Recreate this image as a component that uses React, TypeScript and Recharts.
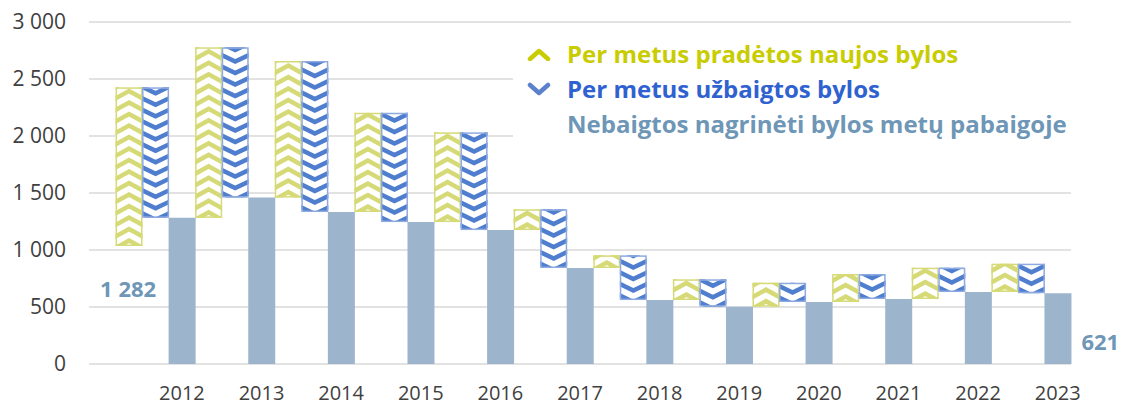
import { Bar, BarChart, CartesianGrid, LabelList, Legend, XAxis, YAxis } from "recharts";

const years = ["2012", "2013", "2014", "2015", "2016", "2017", "2018", "2019", "2020", "2021", "2022", "2023"];
// backlog at the end of 2011
const openingBacklog = 1035;
const newCases = [1392, 1496, 1198, 871, 787, 182, 111, 182, 210, 245, 275, 248];
const closedCases = [1145, 1318, 1325, 959, 857, 515, 392, 240, 169, 219, 213, 259];
const yTicks = [0, 500, 1000, 1500, 2000, 2500, 3000];
const legendOrder = ["up", "down", "backlog"];
const seriesNames: Record<string, string> = {
  up: "Per metus pradėtos naujos bylos",
  down: "Per metus užbaigtos bylos",
  backlog: "Nebaigtos nagrinėti bylos metų pabaigoje",
};

const YELLOW = "#d6da76";
const YELLOW_TEXT = "#c8cc00";
const BLUE = "#4f7ecf";
const BLUE_BORDER = "#8eaadf";
const BLUE_TEXT = "#2f62d0";
const SOLID = "#9cb4cc";
const SOLID_TEXT = "#6e96b6";
const FONT = '"Open Sans", sans-serif';

const fmtThousands = (v: number) => String(v).replace(/\B(?=(\d{3})+(?!\d))/g, " ");

type Row = {
  label: string;
  base: number;
  up: number;
  down: number;
  backlog: number;
  noteLeft?: string;
  noteRight?: string;
};

// one slot per bar: opening slot, then (new, closed, backlog) for every year
const rows: Row[] = [{ label: "", base: 0, up: 0, down: 0, backlog: 0 }];
let open = openingBacklog;
years.forEach((year, i) => {
  const close = open + newCases[i] - closedCases[i];
  rows.push({ label: "", base: open, up: newCases[i], down: 0, backlog: 0 });
  rows.push({ label: "", base: close, up: 0, down: closedCases[i], backlog: 0 });
  rows.push({
    label: year,
    base: 0,
    up: 0,
    down: 0,
    backlog: close,
    noteLeft: i === 0 ? fmtThousands(close) : undefined,
    noteRight: i === years.length - 1 ? fmtThousands(close) : undefined,
  });
  open = close;
});

function ChevronBar(props: any) {
  const { x, y, width, height, index, dir } = props;
  if (!height || height <= 0) return null;
  const up = dir === "up";
  const period = 11.5;
  const drop = 7.5;
  const mid = x + width / 2;
  const id = `clip-${dir}-${index}`;
  const lines = [];
  for (let k = 0, cy = y + height + 2; cy > y - period; k++, cy -= period) {
    const pts = up
      ? `${x - 2},${cy + 1} ${mid},${cy - drop} ${x + width + 2},${cy + 1}`
      : `${x - 2},${cy - drop} ${mid},${cy} ${x + width + 2},${cy - drop}`;
    lines.push(<polyline key={k} points={pts} fill="none" stroke={up ? YELLOW : BLUE} strokeWidth={4.5} />);
  }
  return (
    <g>
      <defs>
        <clipPath id={id}>
          <rect x={x} y={y} width={width} height={height} />
        </clipPath>
      </defs>
      <rect x={x} y={y} width={width} height={height} fill="#fff" />
      <g clipPath={`url(#${id})`}>{lines}</g>
      <rect
        x={x + 0.75}
        y={y + 0.75}
        width={width - 1.5}
        height={height - 1.5}
        fill="none"
        stroke={up ? YELLOW : BLUE_BORDER}
        strokeWidth={1.5}
      />
    </g>
  );
}

function renderNoteLeft(props: any) {
  const { x, y, width, height, value } = props;
  if (!value) return null;
  return (
    <text x={x - 1.5 * width} y={y + height * 0.48} textAnchor="middle" dominantBaseline="central"
      fill={SOLID_TEXT} fontSize={22} fontWeight={700} fontFamily={FONT}>
      {value}
    </text>
  );
}

function renderNoteRight(props: any) {
  const { x, y, width, height, value } = props;
  if (!value) return null;
  return (
    <text x={x + width + 10} y={y + height * 0.67} textAnchor="start" dominantBaseline="central"
      fill={SOLID_TEXT} fontSize={22} fontWeight={700} fontFamily={FONT}>
      {value}
    </text>
  );
}

function LegendIcon({ dataKey }: { dataKey: string }) {
  if (dataKey === "up") {
    return (
      <svg width={24} height={14}>
        <polyline points="3,12 12,4 21,12" fill="none" stroke={YELLOW_TEXT} strokeWidth={4.5} strokeLinecap="round" strokeLinejoin="round" />
      </svg>
    );
  }
  if (dataKey === "down") {
    return (
      <svg width={24} height={14}>
        <polyline points="3,3 12,11 21,3" fill="none" stroke="#5b80cc" strokeWidth={4.5} strokeLinecap="round" strokeLinejoin="round" />
      </svg>
    );
  }
  return <svg width={24} height={14} />;
}

const textColors: Record<string, string> = { up: YELLOW_TEXT, down: BLUE_TEXT, backlog: SOLID_TEXT };

function renderLegend(props: any) {
  const payload = (props.payload || [])
    .filter((p: any) => seriesNames[p.dataKey])
    .sort((a: any, b: any) => legendOrder.indexOf(a.dataKey) - legendOrder.indexOf(b.dataKey));
  return (
    <div style={{ paddingTop: 6, paddingLeft: 14, fontFamily: FONT }}>
      {payload.map((p: any) => (
        <div key={p.dataKey} style={{ display: "flex", alignItems: "center", height: 35 }}>
          <span style={{ width: 40, display: "flex", alignItems: "center" }}>
            <LegendIcon dataKey={p.dataKey} />
          </span>
          <span style={{ color: textColors[p.dataKey], fontSize: 24, fontWeight: 700, whiteSpace: "nowrap" }}>
            {seriesNames[p.dataKey]}
          </span>
        </div>
      ))}
    </div>
  );
}

export default function App() {
  return (
    <div style={{ position: "absolute", left: 0, top: 0, width: 1121, height: 407, background: "#fff" }}>
      <BarChart
        width={1121}
        height={407}
        data={rows}
        margin={{ top: 22, right: 50, left: 0, bottom: 0 }}
        barCategoryGap={0}
        barGap={0}
        style={{ fontFamily: FONT }}
      >
        <CartesianGrid vertical={false} stroke="#d9d9d9" strokeWidth={1.5} />
        <XAxis
          dataKey="label"
          interval={0}
          tickLine={false}
          axisLine={false}
          height={43}
          tickMargin={16}
          tick={{ fontSize: 20, fill: "#404040" }}
        />
        <YAxis
          domain={[0, 3000]}
          ticks={yTicks}
          width={89}
          tickLine={false}
          axisLine={false}
          tickMargin={17}
          tick={{ fontSize: 21, fill: "#404040" }}
          tickFormatter={fmtThousands}
        />
        <Legend
          layout="vertical"
          align="center"
          verticalAlign="middle"
          wrapperStyle={{ left: 513, top: 30, width: 600, height: 118, background: "#fff" }}
          content={renderLegend}
        />
        <Bar dataKey="base" stackId="s" fill="transparent" legendType="none" isAnimationActive={false} />
        <Bar dataKey="up" name={seriesNames.up} stackId="s" isAnimationActive={false}
          shape={(p: any) => <ChevronBar {...p} dir="up" />} />
        <Bar dataKey="down" name={seriesNames.down} stackId="s" isAnimationActive={false}
          shape={(p: any) => <ChevronBar {...p} dir="down" />} />
        <Bar dataKey="backlog" name={seriesNames.backlog} stackId="s" fill={SOLID} isAnimationActive={false}>
          <LabelList dataKey="noteLeft" content={renderNoteLeft} />
          <LabelList dataKey="noteRight" content={renderNoteRight} />
        </Bar>
      </BarChart>
    </div>
  );
}
